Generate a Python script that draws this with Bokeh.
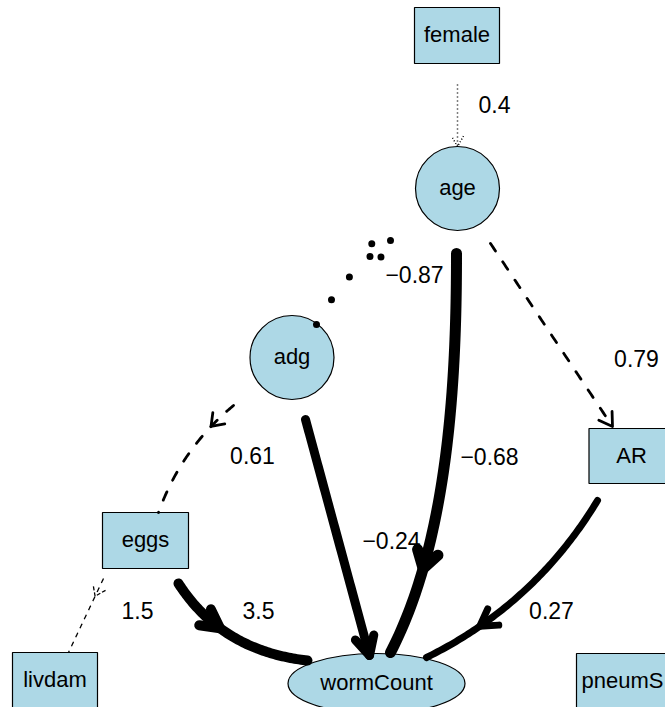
import numpy as np
from math import comb, cos, sin, radians
from bokeh.plotting import figure
from bokeh.models import Range1d
from bokeh.embed import file_html
from bokeh.resources import INLINE
from bokeh.core.properties import value

# ---------------- data ----------------
node_names = ["female", "age", "adg", "eggs", "AR", "livdam", "wormCount", "pneumS"]
edge_from = ["female", "adg", "age", "adg", "eggs", "eggs", "adg", "age", "AR"]
edge_to = ["age", "age", "AR", "eggs", "livdam", "wormCount", "wormCount", "wormCount", "wormCount"]
edge_coef = [0.4, -0.87, 0.79, 0.61, 1.5, 3.5, -0.24, -0.68, 0.27]

# ---------------- layout (reference pixel space, y down) ----------------
NODE_LAYOUT = {
    "female":    dict(shape="box", x=456.5, y=35, w=85, h=56),
    "age":       dict(shape="ellipse", x=457, y=188, w=84, h=84),
    "adg":       dict(shape="ellipse", x=291.5, y=357, w=84, h=84),
    "eggs":      dict(shape="box", x=145, y=540, w=86, h=56),
    "AR":        dict(shape="box", x=631, y=455.5, w=85, h=55),
    "livdam":    dict(shape="box", x=54.5, y=680, w=85, h=56),
    "wormCount": dict(shape="ellipse", x=376, y=683, w=177, h=60),
    "pneumS":    dict(shape="box", x=641, y=681, w=130, h=56, lx=581, align="left"),
}

EDGE_LAYOUT = [
    # female -> age
    dict(path=[(457, 84), (457, 146)], width=1.5, dash="1 3", cap="butt",
         at=1.0, L=12, ang=30, head_dash="1 2", lx=494, ly=105),
    # adg -> age
    dict(path=[(316, 324), (343, 272.8), (390, 240)], width=7, dash="0 29", cap="round",
         at=1.0, L=19, ang=25, head_dash="0 19", lx=414, ly=275),
    # age -> AR
    dict(path=[(490, 243), (612, 426)], width=2.8, dash="9 13", cap="round",
         at=1.0, L=15, ang=32, head_dash="solid", lx=636, ly=359),
    # adg -> eggs
    dict(path=[(233, 405), (180.7, 448.3), (158, 512)], width=2.8, dash="9 13", cap="round",
         at=0.23, L=14, ang=36, head_dash="solid", lx=252, ly=456),
    # eggs -> livdam
    dict(path=[(103, 578), (68, 652)], width=1.3, dash="5 5", cap="butt",
         at=0.24, L=12, ang=35, head_dash="4 2", lx=137, ly=611),
    # eggs -> wormCount
    dict(path=[(178, 583), (221.5, 650.5), (307, 660)], width=10, dash="solid", cap="round",
         at=0.40, L=21, ang=28, head_dash="solid", lx=258, ly=611),
    # adg -> wormCount
    dict(path=[(305, 419), (369, 655)], width=9, dash="solid", cap="round",
         at=1.0, L=21, ang=27, head_dash="solid", lx=391, ly=541),
    # age -> wormCount
    dict(path=[(456, 253), (456, 380), (448, 540), (390, 652)], width=11, dash="solid", cap="round",
         at=0.77, L=20, ang=32, head_dash="solid", lx=489, ly=457),
    # AR -> wormCount
    dict(path=[(597, 500), (534.5, 603.5), (426, 657)], width=7, dash="solid", cap="round",
         at=0.74, L=19, ang=31, head_dash="solid", lx=551, ly=611),
]

FILL = "#add8e6"
FONT = value("Liberation Sans")


def bezier(pts, t):
    pts = np.asarray(pts, dtype=float)
    n = len(pts) - 1
    t = np.atleast_1d(t)[:, None]
    out = np.zeros((t.shape[0], 2))
    for k in range(n + 1):
        out += comb(n, k) * (1 - t) ** (n - k) * t ** k * pts[k]
    return out


def tangent(pts, t):
    eps = 1e-4
    a = bezier(pts, max(t - eps, 0.0))[0]
    b = bezier(pts, min(t + eps, 1.0))[0]
    d = b - a
    return d / np.hypot(*d)


def rot(v, deg):
    r = radians(deg)
    return np.array([v[0] * cos(r) - v[1] * sin(r), v[0] * sin(r) + v[1] * cos(r)])


p = figure(width=665, height=707, x_range=Range1d(0, 665), y_range=Range1d(707, 0),
           output_backend="svg", toolbar_location=None, min_border=0,
           x_axis_type=None, y_axis_type=None)
p.grid.visible = False
p.outline_line_color = None
p.background_fill_color = "white"
p.border_fill_color = "white"

# nodes
for name in node_names:
    nd = NODE_LAYOUT[name]
    if nd["shape"] == "box":
        p.rect(x=[nd["x"]], y=[nd["y"]], width=nd["w"], height=nd["h"],
               fill_color=FILL, line_color="black", line_width=1.2)
    else:
        p.ellipse(x=[nd["x"]], y=[nd["y"]], width=nd["w"], height=nd["h"],
                  fill_color=FILL, line_color="black", line_width=1.2)
    tx = nd.get("lx", nd["x"])
    p.text(x=[tx], y=[nd["y"] - 1], text=[name], text_font=FONT, text_font_size="22px",
           text_align=nd.get("align", "center"), text_baseline="middle", text_color="black")

# edges
for i, (src, dst, coef) in enumerate(zip(edge_from, edge_to, edge_coef)):
    ed = EDGE_LAYOUT[i]
    pts = ed["path"]
    t = np.linspace(0, 1, 80)
    curve = bezier(pts, t)
    p.line(curve[:, 0], curve[:, 1], line_width=ed["width"], line_color="black",
           line_dash=ed["dash"], line_cap=ed["cap"], line_join="round")
    tip = bezier(pts, ed["at"])[0]
    d = tangent(pts, ed["at"])
    back = -d
    b1 = tip + ed["L"] * rot(back, ed["ang"])
    b2 = tip + ed["L"] * rot(back, -ed["ang"])
    p.line([b1[0], tip[0], b2[0]], [b1[1], tip[1], b2[1]], line_width=ed["width"],
           line_color="black", line_dash=ed["head_dash"], line_cap=ed["cap"], line_join="round")
    label = ("\u2212" if coef < 0 else "") + f"{abs(coef):g}"
    p.text(x=[ed["lx"]], y=[ed["ly"] - 1], text=[label], text_font=FONT, text_font_size="23px",
           text_align="center", text_baseline="middle", text_color="black")

open("out.html", "w").write(file_html(p, INLINE))
